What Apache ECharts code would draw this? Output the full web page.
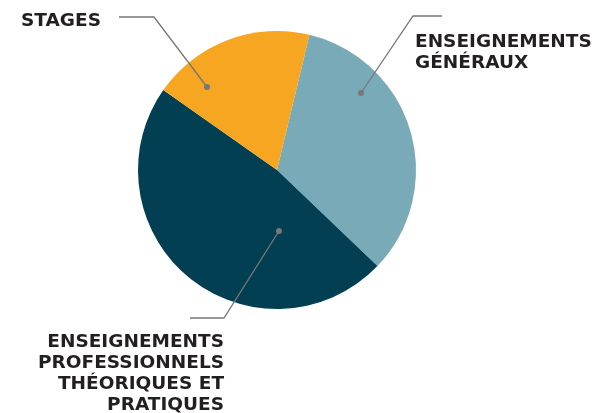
<!DOCTYPE html>
<html><head><meta charset="utf-8">
<script src="https://cdn.jsdelivr.net/npm/echarts@6/dist/echarts.min.js"></script>
<style>html,body{margin:0;padding:0;background:#fff}#c{width:596px;height:413px}</style>
</head><body><div id="c"></div>
<script>
const categories = ['ENSEIGNEMENTS\nGÉNÉRAUX', 'ENSEIGNEMENTS\nPROFESSIONNELS\nTHÉORIQUES ET\nPRATIQUES', 'STAGES'];
const values = [33.4, 47.6, 19.0];
const colors = ['#79aab8', '#023f53', '#f6a620'];
// label placement: [labelX, labelY, align, elbowX, elbowY, endX, dotX, dotY]
const labelPlaces = [
  [415, 32, 'left', 413, 16, 442, 361, 93],
  [224, 332, 'right', 224, 318, 190, 279, 231],
  [21, 11, 'left', 154, 17, 119, 207, 87]
];

const pieData = categories.map((n, i) => ({ name: n, value: values[i], itemStyle: { color: colors[i] } }));
const common = { type: 'pie', center: [277, 170], radius: [0, 139], startAngle: 76.5, clockwise: true, silent: true };

const chart = echarts.init(document.getElementById('c'));
chart.setOption({
  animation: false,
  series: [
    Object.assign({}, common, {
      z: 1,
      data: pieData,
      label: { show: false }, labelLine: { show: false }
    }),
    Object.assign({}, common, {
      z: 5,
      data: categories.map((n, i) => ({ name: n, value: values[i] })),
      itemStyle: { color: 'rgba(0,0,0,0)' },
      label: {
        show: true, position: 'outside', formatter: '{b}', overflow: 'none',
        fontFamily: 'DejaVu Sans', fontWeight: 'bold', fontSize: 18.5, lineHeight: 21,
        color: '#231f20'
      },
      labelLine: { show: true, lineStyle: { color: '#777', width: 1.3 } },
      labelLayout: function (p) {
        const L = labelPlaces[p.dataIndex];
        return {
          x: L[0], y: L[1], align: L[2], verticalAlign: 'top',
          labelLinePoints: [[L[6], L[7]], [L[3], L[4]], [L[5], L[4]]]
        };
      }
    })
  ],
  graphic: labelPlaces.map(L => ({
    type: 'circle', shape: { cx: L[6], cy: L[7], r: 3 }, style: { fill: '#777' }, z: 100
  }))
});
</script></body></html>
